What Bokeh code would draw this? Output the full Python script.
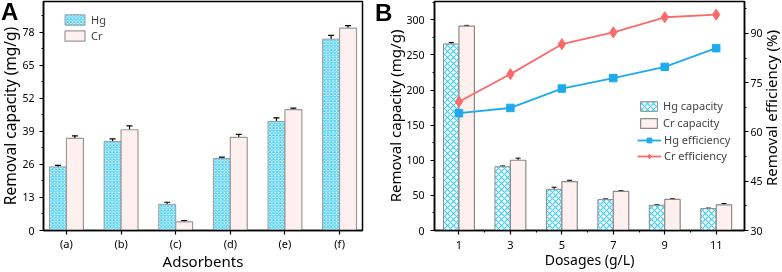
from bokeh.plotting import figure
from bokeh.models import (Range1d, LinearAxis, FixedTicker, ColumnDataSource,
                          Whisker, TeeHead, Legend, LegendItem, Div)
from bokeh.layouts import row
from bokeh.embed import file_html
from bokeh.resources import INLINE

# ---------------- data ----------------
adsorbents = ["(a)", "(b)", "(c)", "(d)", "(e)", "(f)"]
hg_cap_a = [25.0, 35.0, 10.3, 28.3, 42.8, 75.2]
hg_err_a = [0.6, 1.0, 0.8, 0.5, 1.5, 1.5]
cr_cap_a = [36.2, 39.6, 3.4, 36.6, 47.5, 79.5]
cr_err_a = [1.0, 1.5, 0.5, 1.2, 0.6, 1.0]
yticks_a = [0, 13, 26, 39, 52, 65, 78]

dosages = [1, 3, 5, 7, 9, 11]
hg_cap_b = [265.5, 90.7, 58.6, 44.0, 35.9, 31.2]
hg_err_b = [2.0, 1.2, 3.0, 1.0, 0.7, 0.7]
cr_cap_b = [291.0, 100.0, 69.5, 55.7, 44.2, 36.5]
cr_err_b = [1.0, 3.0, 2.0, 1.0, 1.0, 2.0]
hg_eff = [65.7, 67.3, 73.2, 76.4, 79.8, 85.5]
cr_eff = [69.2, 77.6, 86.7, 90.3, 94.9, 95.7]
yticks_b = [0, 50, 100, 150, 200, 250, 300]
yticks_eff = [30, 45, 60, 75, 90]

FONT = "Noto Sans"
HATCH = "#3fcdf5"
CR_FILL = "#fdf0ee"
EDGE = "#9a9a9a"
HG_LINE = "#1eaaec"
CR_LINE = "#fa6a6a"


def style_axis(ax, label_size, tick_size, s1, s2):
    ax.axis_line_width = 1.5
    ax.axis_line_color = "black"
    ax.major_tick_line_width = 1.2
    ax.minor_tick_line_width = 1.0
    ax.major_tick_in = 0
    ax.major_tick_out = 4
    ax.minor_tick_in = 0
    ax.minor_tick_out = 2
    ax.major_label_text_font = FONT
    ax.major_label_text_font_size = tick_size
    ax.major_label_text_color = "black"
    ax.axis_label_text_font = FONT
    ax.axis_label_text_font_size = label_size
    ax.axis_label_text_font_style = "normal"
    ax.axis_label_text_color = "black"
    ax.major_label_standoff = s1
    ax.axis_label_standoff = s2


# ---------------- panel A ----------------
pa = figure(width=376, height=283, x_range=Range1d(-0.42, 5.42), y_range=Range1d(0, 90),
            output_backend="svg", toolbar_location=None,
            min_border_left=43, min_border_right=10, min_border_top=1, min_border_bottom=49)
pa.xgrid.visible = False
pa.ygrid.visible = False
pa.outline_line_color = "black"
pa.outline_line_width = 1.5

xa = list(range(len(adsorbents)))
src_a = ColumnDataSource(dict(
    xh=[x - 0.155 for x in xa], xc=[x + 0.155 for x in xa],
    hg=hg_cap_a, cr=cr_cap_a,
    hg_lo=[v - e for v, e in zip(hg_cap_a, hg_err_a)], hg_hi=[v + e for v, e in zip(hg_cap_a, hg_err_a)],
    cr_lo=[v - e for v, e in zip(cr_cap_a, cr_err_a)], cr_hi=[v + e for v, e in zip(cr_cap_a, cr_err_a)],
))
r_hg_a = pa.vbar(x="xh", top="hg", width=0.31, source=src_a, fill_color="white",
                 hatch_pattern="diagonal_cross", hatch_color=HATCH, hatch_scale=3.4, hatch_weight=1.1,
                 line_color=EDGE, line_width=1)
r_cr_a = pa.vbar(x="xc", top="cr", width=0.31, source=src_a, fill_color=CR_FILL,
                 line_color=EDGE, line_width=1.2)
for b, lo, hi in [("xh", "hg_lo", "hg_hi"), ("xc", "cr_lo", "cr_hi")]:
    w = Whisker(source=src_a, base=b, lower=lo, upper=hi, line_color="black", line_width=1.2,
                upper_head=TeeHead(size=6, line_width=1.2, line_color="black"),
                lower_head=TeeHead(size=6, line_width=1.2, line_color="black"))
    pa.add_layout(w)

pa.xaxis.ticker = FixedTicker(ticks=xa, minor_ticks=[])
pa.xaxis.major_label_overrides = {i: s for i, s in enumerate(adsorbents)}
pa.xaxis.axis_label = "Adsorbents"
pa.yaxis.ticker = FixedTicker(ticks=yticks_a, minor_ticks=[6.5 + 13 * i for i in range(7)])
pa.yaxis.axis_label = "Removal capacity (mg/g)"
style_axis(pa.xaxis[0], "15px", "11px", 1, -3)
style_axis(pa.yaxis[0], "15.5px", "10.5px", 5, -2)

leg_a = Legend(items=[LegendItem(label="Hg", renderers=[r_hg_a]),
                      LegendItem(label="Cr", renderers=[r_cr_a])],
               location=(19, 187), orientation="vertical", padding=0, margin=0, spacing=1,
               glyph_width=25, glyph_height=13, label_height=13, label_standoff=4,
               label_text_font=FONT, label_text_font_size="11px",
               background_fill_alpha=0, border_line_alpha=0)
pa.add_layout(leg_a)

# ---------------- panel B ----------------
pb = figure(width=412, height=283, x_range=Range1d(0.05, 12.1), y_range=Range1d(0, 326),
            output_backend="svg", toolbar_location=None,
            min_border_left=62, min_border_right=40, min_border_top=1, min_border_bottom=53)
pb.xgrid.visible = False
pb.ygrid.visible = False
pb.outline_line_color = "black"
pb.outline_line_width = 1.5
pb.extra_y_ranges = {"eff": Range1d(30, 99.7)}

src_b = ColumnDataSource(dict(
    xh=[x - 0.3 for x in dosages], xc=[x + 0.3 for x in dosages],
    hg=hg_cap_b, cr=cr_cap_b,
    hg_lo=[v - e for v, e in zip(hg_cap_b, hg_err_b)], hg_hi=[v + e for v, e in zip(hg_cap_b, hg_err_b)],
    cr_lo=[v - e for v, e in zip(cr_cap_b, cr_err_b)], cr_hi=[v + e for v, e in zip(cr_cap_b, cr_err_b)],
))
r_hg_b = pb.vbar(x="xh", top="hg", width=0.6, source=src_b, fill_color="white",
                 hatch_pattern="diagonal_cross", hatch_color=HATCH, hatch_scale=6, hatch_weight=1.2,
                 line_color="#8a8a8a", line_width=1)
r_cr_b = pb.vbar(x="xc", top="cr", width=0.6, source=src_b, fill_color=CR_FILL,
                 line_color="#8a8a8a", line_width=1.2)
for b, lo, hi in [("xh", "hg_lo", "hg_hi"), ("xc", "cr_lo", "cr_hi")]:
    w = Whisker(source=src_b, base=b, lower=lo, upper=hi, line_color="black", line_width=1,
                upper_head=TeeHead(size=5, line_width=1, line_color="black"),
                lower_head=TeeHead(size=5, line_width=1, line_color="black"))
    pb.add_layout(w)

l_hg = pb.line(dosages, hg_eff, y_range_name="eff", line_color=HG_LINE, line_width=1.8)
s_hg = pb.scatter(dosages, hg_eff, y_range_name="eff", marker="square", size=7.5,
                  fill_color=HG_LINE, line_color=HG_LINE)
l_cr = pb.line(dosages, cr_eff, y_range_name="eff", line_color=CR_LINE, line_width=1.8)
s_cr = pb.scatter(dosages, cr_eff, y_range_name="eff", marker="diamond", size=11,
                  fill_color=CR_LINE, line_color=CR_LINE)

pb.xaxis.ticker = FixedTicker(ticks=dosages, minor_ticks=[2, 4, 6, 8, 10])
pb.xaxis.axis_label = "Dosages (g/L)"
pb.yaxis.ticker = FixedTicker(ticks=yticks_b, minor_ticks=[25 + 50 * i for i in range(7)])
pb.yaxis.axis_label = "Removal capacity (mg/g)"
style_axis(pb.xaxis[0], "14px", "11px", 6, -2)
style_axis(pb.yaxis[0], "15px", "10.5px", 6, -2)

raxis = LinearAxis(y_range_name="eff",
                   ticker=FixedTicker(ticks=yticks_eff, minor_ticks=[37.5, 52.5, 67.5, 82.5, 97.5]))
style_axis(raxis, "15px", "10.5px", 2, 0)
pb.add_layout(raxis, "right")

leg_b1 = Legend(items=[LegendItem(label="Hg capacity", renderers=[r_hg_b]),
                       LegendItem(label="Cr capacity", renderers=[r_cr_b])],
                location=(204, 100), padding=0, margin=0, spacing=2,
                glyph_width=21, glyph_height=12, label_height=12, label_standoff=4,
                label_text_font=FONT, label_text_font_size="11px",
                background_fill_alpha=0, border_line_alpha=0)
leg_b2 = Legend(items=[LegendItem(label="Hg efficiency", renderers=[l_hg, s_hg]),
                       LegendItem(label="Cr efficiency", renderers=[l_cr, s_cr])],
                location=(203, 67), padding=0, margin=0, spacing=1,
                glyph_width=24, glyph_height=12, label_height=12, label_standoff=3,
                label_text_font=FONT, label_text_font_size="11px",
                background_fill_alpha=0, border_line_alpha=0)
pb.add_layout(leg_b1)
pb.add_layout(leg_b2)

PANEL_STYLE = {"position": "fixed", "font-family": "Liberation Sans", "font-weight": "bold",
               "font-size": "24px", "line-height": "20px", "color": "black"}
div_a = Div(text="A", margin=0, styles=dict(PANEL_STYLE, left="1px", top="2px"))
div_b = Div(text="B", margin=0, styles=dict(PANEL_STYLE, left="375px", top="3px"))
div_r = Div(text="Removal efficiency (%)", margin=0,
            styles={"position": "fixed", "left": "764px", "top": "30px",
                    "font-family": FONT, "font-size": "15px", "line-height": "15px",
                    "color": "black", "writing-mode": "vertical-rl",
                    "transform": "rotate(180deg)", "white-space": "nowrap"})

layout = row(pa, pb, div_a, div_b, div_r, styles={"position": "fixed", "top": "0px", "left": "-4px"})
open("out.html", "w").write(file_html(layout, INLINE))
